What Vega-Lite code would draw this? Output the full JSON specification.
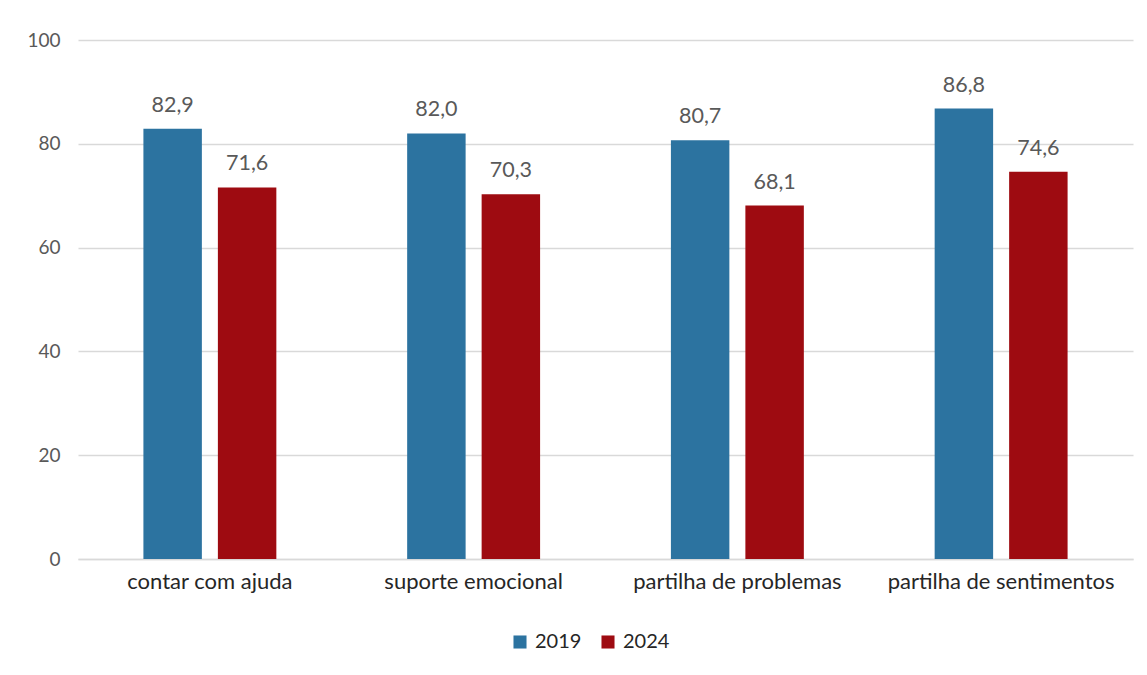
{
  "$schema": "https://vega.github.io/schema/vega-lite/v6.json",
  "width": 1055,
  "height": 519,
  "autosize": {"type": "none"},
  "padding": {"left": 78, "top": 40, "right": 14, "bottom": 116},
  "background": "white",
  "config": {
    "view": {"stroke": null},
    "font": "Lato",
    "locale": {"number": {"decimal": ",", "thousands": ".", "grouping": [3], "currency": ["", " €"]}}
  },
  "data": {
    "values": [
      {"categoria": "contar com ajuda", "ano": "2019", "valor": 82.9},
      {"categoria": "contar com ajuda", "ano": "2024", "valor": 71.6},
      {"categoria": "suporte emocional", "ano": "2019", "valor": 82.0},
      {"categoria": "suporte emocional", "ano": "2024", "valor": 70.3},
      {"categoria": "partilha de problemas", "ano": "2019", "valor": 80.7},
      {"categoria": "partilha de problemas", "ano": "2024", "valor": 68.1},
      {"categoria": "partilha de sentimentos", "ano": "2019", "valor": 86.8},
      {"categoria": "partilha de sentimentos", "ano": "2024", "valor": 74.6}
    ]
  },
  "encoding": {
    "x": {
      "field": "categoria",
      "type": "nominal",
      "sort": null,
      "scale": {"paddingInner": 0.496, "paddingOuter": 0.248},
      "axis": {
        "title": null,
        "labelAngle": 0,
        "labelFontSize": 22,
        "labelColor": "#262626",
        "labelPadding": 12,
        "labelLimit": 0,
        "ticks": false,
        "domainColor": "#D9D9D9",
        "domainWidth": 1.5
      }
    },
    "xOffset": {
      "field": "ano",
      "type": "nominal",
      "scale": {"paddingInner": 0.215, "paddingOuter": 0}
    },
    "y": {
      "field": "valor",
      "type": "quantitative",
      "scale": {"domain": [0, 100], "nice": false},
      "axis": {
        "title": null,
        "values": [0, 20, 40, 60, 80, 100],
        "labelFontSize": 19,
        "labelColor": "#595959",
        "labelPadding": 18,
        "ticks": false,
        "domain": false,
        "gridColor": "#D9D9D9",
        "gridWidth": 1.5
      }
    }
  },
  "layer": [
    {
      "mark": {"type": "bar"},
      "encoding": {
        "color": {
          "field": "ano",
          "type": "nominal",
          "scale": {"domain": ["2019", "2024"], "range": ["#2C73A0", "#9E0B11"]},
          "legend": {
            "title": null,
            "orient": "none",
            "direction": "horizontal",
            "legendX": 432,
            "legendY": 592,
            "symbolType": "square",
            "symbolSize": 170,
            "symbolStrokeWidth": 0,
            "labelFontSize": 20,
            "labelColor": "#262626",
            "labelOffset": 5,
            "columnPadding": 16
          }
        }
      }
    },
    {
      "mark": {"type": "text", "baseline": "bottom", "dy": -12, "fontSize": 21.5, "color": "#595959"},
      "encoding": {
        "text": {"field": "valor", "type": "quantitative", "format": ".1f"}
      }
    }
  ]
}
